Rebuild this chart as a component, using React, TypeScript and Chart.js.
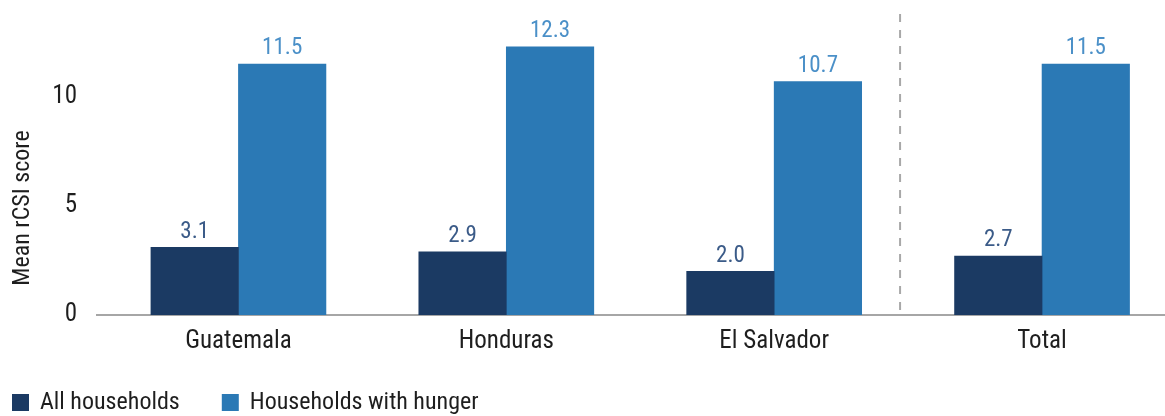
import React, { useEffect, useRef } from "react";
import { Chart, registerables } from "chart.js";

Chart.register(...registerables);

const categories = ["Guatemala", "Honduras", "El Salvador", "Total"];
const allHouseholds = [3.1, 2.9, 2.0, 2.7];
const hungerHouseholds = [11.5, 12.3, 10.7, 11.5];
const yTicks = [0, 5, 10];
const seriesNames = ["All households", "Households with hunger"];
const yTitle = "Mean rCSI score";
const separatorAfter = 2.47;

const FONT = "'Roboto Condensed', Roboto, 'Liberation Sans Narrow', sans-serif";
const DARK = "#1b3a63";
const LIGHT = "#2b79b5";
const DARK_LABEL = "#3b5b88";
const LIGHT_LABEL = "#4b90c8";
const TEXT = "#1e1e1e";

const overlay = {
  id: "overlay",
  beforeDatasetsDraw(chart: any) {
    const { ctx, chartArea, scales } = chart;
    const x = scales.x.getPixelForValue(separatorAfter);
    ctx.save();
    ctx.strokeStyle = "#a8a8a8";
    ctx.lineWidth = 2;
    ctx.setLineDash([8, 8]);
    ctx.beginPath();
    ctx.moveTo(x, chartArea.top);
    ctx.lineTo(x, chartArea.bottom);
    ctx.stroke();
    ctx.restore();
  },
  afterDatasetsDraw(chart: any) {
    const { ctx } = chart;
    ctx.save();
    ctx.font = `23px ${FONT}`;
    ctx.textAlign = "center";
    ctx.textBaseline = "bottom";
    chart.data.datasets.forEach((ds: any, di: number) => {
      const meta = chart.getDatasetMeta(di);
      ctx.fillStyle = di === 0 ? DARK_LABEL : LIGHT_LABEL;
      meta.data.forEach((bar: any, i: number) => {
        const v = ds.data[i].y;
        ctx.fillText(v.toFixed(1), bar.x, bar.y - 4);
      });
    });
    ctx.restore();
  },
  afterDraw(chart: any) {
    const { ctx } = chart;
    ctx.save();
    ctx.fillStyle = TEXT;
    ctx.font = `24px ${FONT}`;
    ctx.textAlign = "center";
    ctx.textBaseline = "middle";
    ctx.translate(23, chart.height / 2);
    ctx.rotate(-Math.PI / 2);
    ctx.fillText(yTitle, 0, 0);
    ctx.restore();
    ctx.save();
    ctx.font = `24px ${FONT}`;
    ctx.textBaseline = "middle";
    ctx.textAlign = "left";
    let lx = 12;
    const cy = 403;
    chart.data.datasets.forEach((ds: any) => {
      ctx.fillStyle = ds.backgroundColor;
      ctx.fillRect(lx, cy - 9, 17, 17);
      ctx.fillStyle = TEXT;
      ctx.fillText(ds.label, lx + 28, cy);
      lx += 28 + ctx.measureText(ds.label).width + 42;
    });
    ctx.restore();
  },
};

export default function App() {
  const ref = useRef<HTMLCanvasElement>(null);
  useEffect(() => {
    if (!ref.current) return;
    const xs = categories.map((_, i) => i);
    const chart = new Chart(ref.current, {
      type: "bar",
      data: {
        datasets: [
          {
            label: seriesNames[0],
            data: xs.map((x, i) => ({ x, y: allHouseholds[i] })),
            backgroundColor: DARK,
            barThickness: 87.5,
          },
          {
            label: seriesNames[1],
            data: xs.map((x, i) => ({ x, y: hungerHouseholds[i] })),
            backgroundColor: LIGHT,
            barThickness: 87.5,
          },
        ],
      },
      plugins: [overlay],
      options: {
        responsive: false,
        animation: false,
        devicePixelRatio: 1,
        layout: { padding: { top: 14, left: 0, right: 0, bottom: 0 } },
        plugins: {
          legend: { display: false },
          tooltip: { enabled: false },
        },
        scales: {
          x: {
            type: "linear",
            offset: false,
            min: -0.528,
            max: 3.459,
            grid: { display: false, offset: false },
            border: { color: "#a6a6a6", width: 2 },
            afterBuildTicks: (s: any) => {
              s.ticks = categories.map((_, i) => ({ value: i }));
            },
            afterFit: (s: any) => {
              s.height = 101;
              s.paddingLeft = 0;
              s.paddingRight = 0;
            },
            ticks: {
              autoSkip: false,
              maxRotation: 0,
              padding: 4,
              color: TEXT,
              font: { family: FONT, size: 25 },
              callback: (v: any) => categories[v] ?? "",
            },
          },
          y: {
            min: 0,
            max: 13.8,
            grid: { display: false },
            border: { display: false },
            afterBuildTicks: (s: any) => {
              s.ticks = yTicks.map((v) => ({ value: v }));
            },
            afterFit: (s: any) => {
              s.width = 97;
              s.paddingTop = 0;
              s.paddingBottom = 0;
            },
            ticks: {
              padding: 12,
              color: TEXT,
              font: { family: FONT, size: 25 },
            },
          },
        },
      },
    } as any);
    return () => chart.destroy();
  }, []);
  return (
    <div style={{ position: "absolute", left: 0, top: 0, width: 1165, height: 416, background: "#fff" }}>
      <canvas ref={ref} width={1165} height={416} style={{ width: 1165, height: 416, display: "block" }} />
    </div>
  );
}
